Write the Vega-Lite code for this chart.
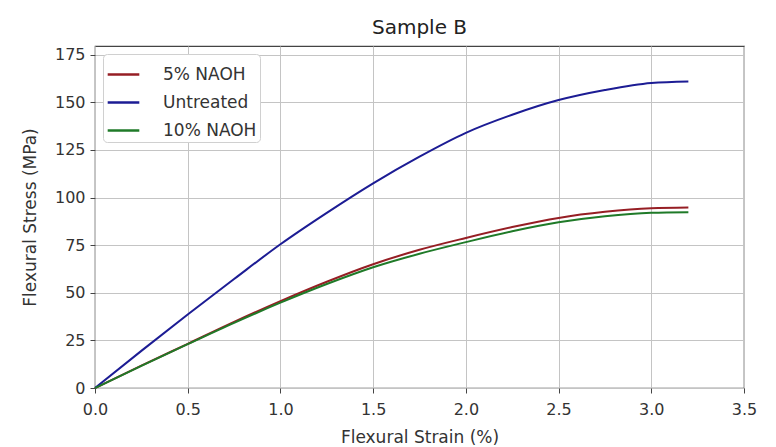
{
  "$schema": "https://vega.github.io/schema/vega-lite/v6.json",
  "width": 649,
  "height": 342,
  "autosize": "none",
  "padding": {"left": 95, "top": 46, "right": 32, "bottom": 59},
  "background": "white",
  "title": {"text": "Sample B", "fontSize": 20, "font": "DejaVu Sans", "fontWeight": "normal", "color": "#222", "offset": 8},
  "data": {"values": [
    {"s": "5% NAOH", "x": 0, "y": 0}, {"s": "5% NAOH", "x": 0.25, "y": 11.7}, {"s": "5% NAOH", "x": 0.5, "y": 23.2}, {"s": "5% NAOH", "x": 0.75, "y": 34.7}, {"s": "5% NAOH", "x": 1.0, "y": 45.6}, {"s": "5% NAOH", "x": 1.25, "y": 55.8}, {"s": "5% NAOH", "x": 1.5, "y": 65.0}, {"s": "5% NAOH", "x": 1.75, "y": 72.6}, {"s": "5% NAOH", "x": 2.0, "y": 78.8}, {"s": "5% NAOH", "x": 2.25, "y": 84.5}, {"s": "5% NAOH", "x": 2.5, "y": 89.3}, {"s": "5% NAOH", "x": 2.75, "y": 92.5}, {"s": "5% NAOH", "x": 3.0, "y": 94.4}, {"s": "5% NAOH", "x": 3.2, "y": 94.8},
    {"s": "Untreated", "x": 0, "y": 0}, {"s": "Untreated", "x": 0.25, "y": 19.5}, {"s": "Untreated", "x": 0.5, "y": 38.6}, {"s": "Untreated", "x": 0.75, "y": 57.2}, {"s": "Untreated", "x": 1.0, "y": 75.5}, {"s": "Untreated", "x": 1.25, "y": 92}, {"s": "Untreated", "x": 1.5, "y": 107.5}, {"s": "Untreated", "x": 1.75, "y": 121.5}, {"s": "Untreated", "x": 2.0, "y": 134}, {"s": "Untreated", "x": 2.25, "y": 143.5}, {"s": "Untreated", "x": 2.5, "y": 151.2}, {"s": "Untreated", "x": 2.75, "y": 156.5}, {"s": "Untreated", "x": 3.0, "y": 160.2}, {"s": "Untreated", "x": 3.2, "y": 161},
    {"s": "10% NAOH", "x": 0, "y": 0}, {"s": "10% NAOH", "x": 0.25, "y": 11.6}, {"s": "10% NAOH", "x": 0.5, "y": 23}, {"s": "10% NAOH", "x": 0.75, "y": 34.2}, {"s": "10% NAOH", "x": 1.0, "y": 44.8}, {"s": "10% NAOH", "x": 1.25, "y": 54.6}, {"s": "10% NAOH", "x": 1.5, "y": 63.4}, {"s": "10% NAOH", "x": 1.75, "y": 70.5}, {"s": "10% NAOH", "x": 2.0, "y": 76.6}, {"s": "10% NAOH", "x": 2.25, "y": 82.3}, {"s": "10% NAOH", "x": 2.5, "y": 87}, {"s": "10% NAOH", "x": 2.75, "y": 90.2}, {"s": "10% NAOH", "x": 3.0, "y": 92}, {"s": "10% NAOH", "x": 3.2, "y": 92.3}
  ]},
  "mark": {"type": "line", "interpolate": "monotone", "strokeWidth": 2},
  "encoding": {
    "x": {"field": "x", "type": "quantitative", "scale": {"domain": [0, 3.5], "nice": false},
      "axis": {"title": "Flexural Strain (%)", "values": [0, 0.5, 1, 1.5, 2, 2.5, 3, 3.5], "format": ".1f", "labelFlush": false}},
    "y": {"field": "y", "type": "quantitative", "scale": {"domain": [0, 179.6], "nice": false},
      "axis": {"title": "Flexural Stress (MPa)", "values": [0, 25, 50, 75, 100, 125, 150, 175]}},
    "color": {"field": "s", "type": "nominal", "sort": null,
      "scale": {"domain": ["5% NAOH", "Untreated", "10% NAOH"], "range": ["#961e24", "#1c1c94", "#1f7a28"]},
      "legend": {"title": null, "orient": "top-left", "offset": 8, "symbolType": "stroke", "symbolSize": 1000, "symbolStrokeWidth": 2.5,
        "labelFontSize": 17, "labelFont": "DejaVu Sans", "labelColor": "#333", "rowPadding": 2, "labelOffset": 22,
        "fillColor": "white", "strokeColor": "#d0d0d0", "padding": 3, "cornerRadius": 4}}
  },
  "config": {
    "view": {"stroke": "#444", "strokeWidth": 1.2},
    "axis": {"grid": true, "gridColor": "#c4c4c4", "gridWidth": 1, "domain": false, "tickColor": "#444", "tickSize": 5,
      "labelFont": "DejaVu Sans", "labelFontSize": 16, "labelColor": "#333",
      "titleFont": "DejaVu Sans", "titleFontSize": 17, "titleFontWeight": "normal", "titleColor": "#333"},
    "axisX": {"titlePadding": 12, "labelPadding": 8},
    "axisY": {"titlePadding": 15, "labelPadding": 5}
  }
}
